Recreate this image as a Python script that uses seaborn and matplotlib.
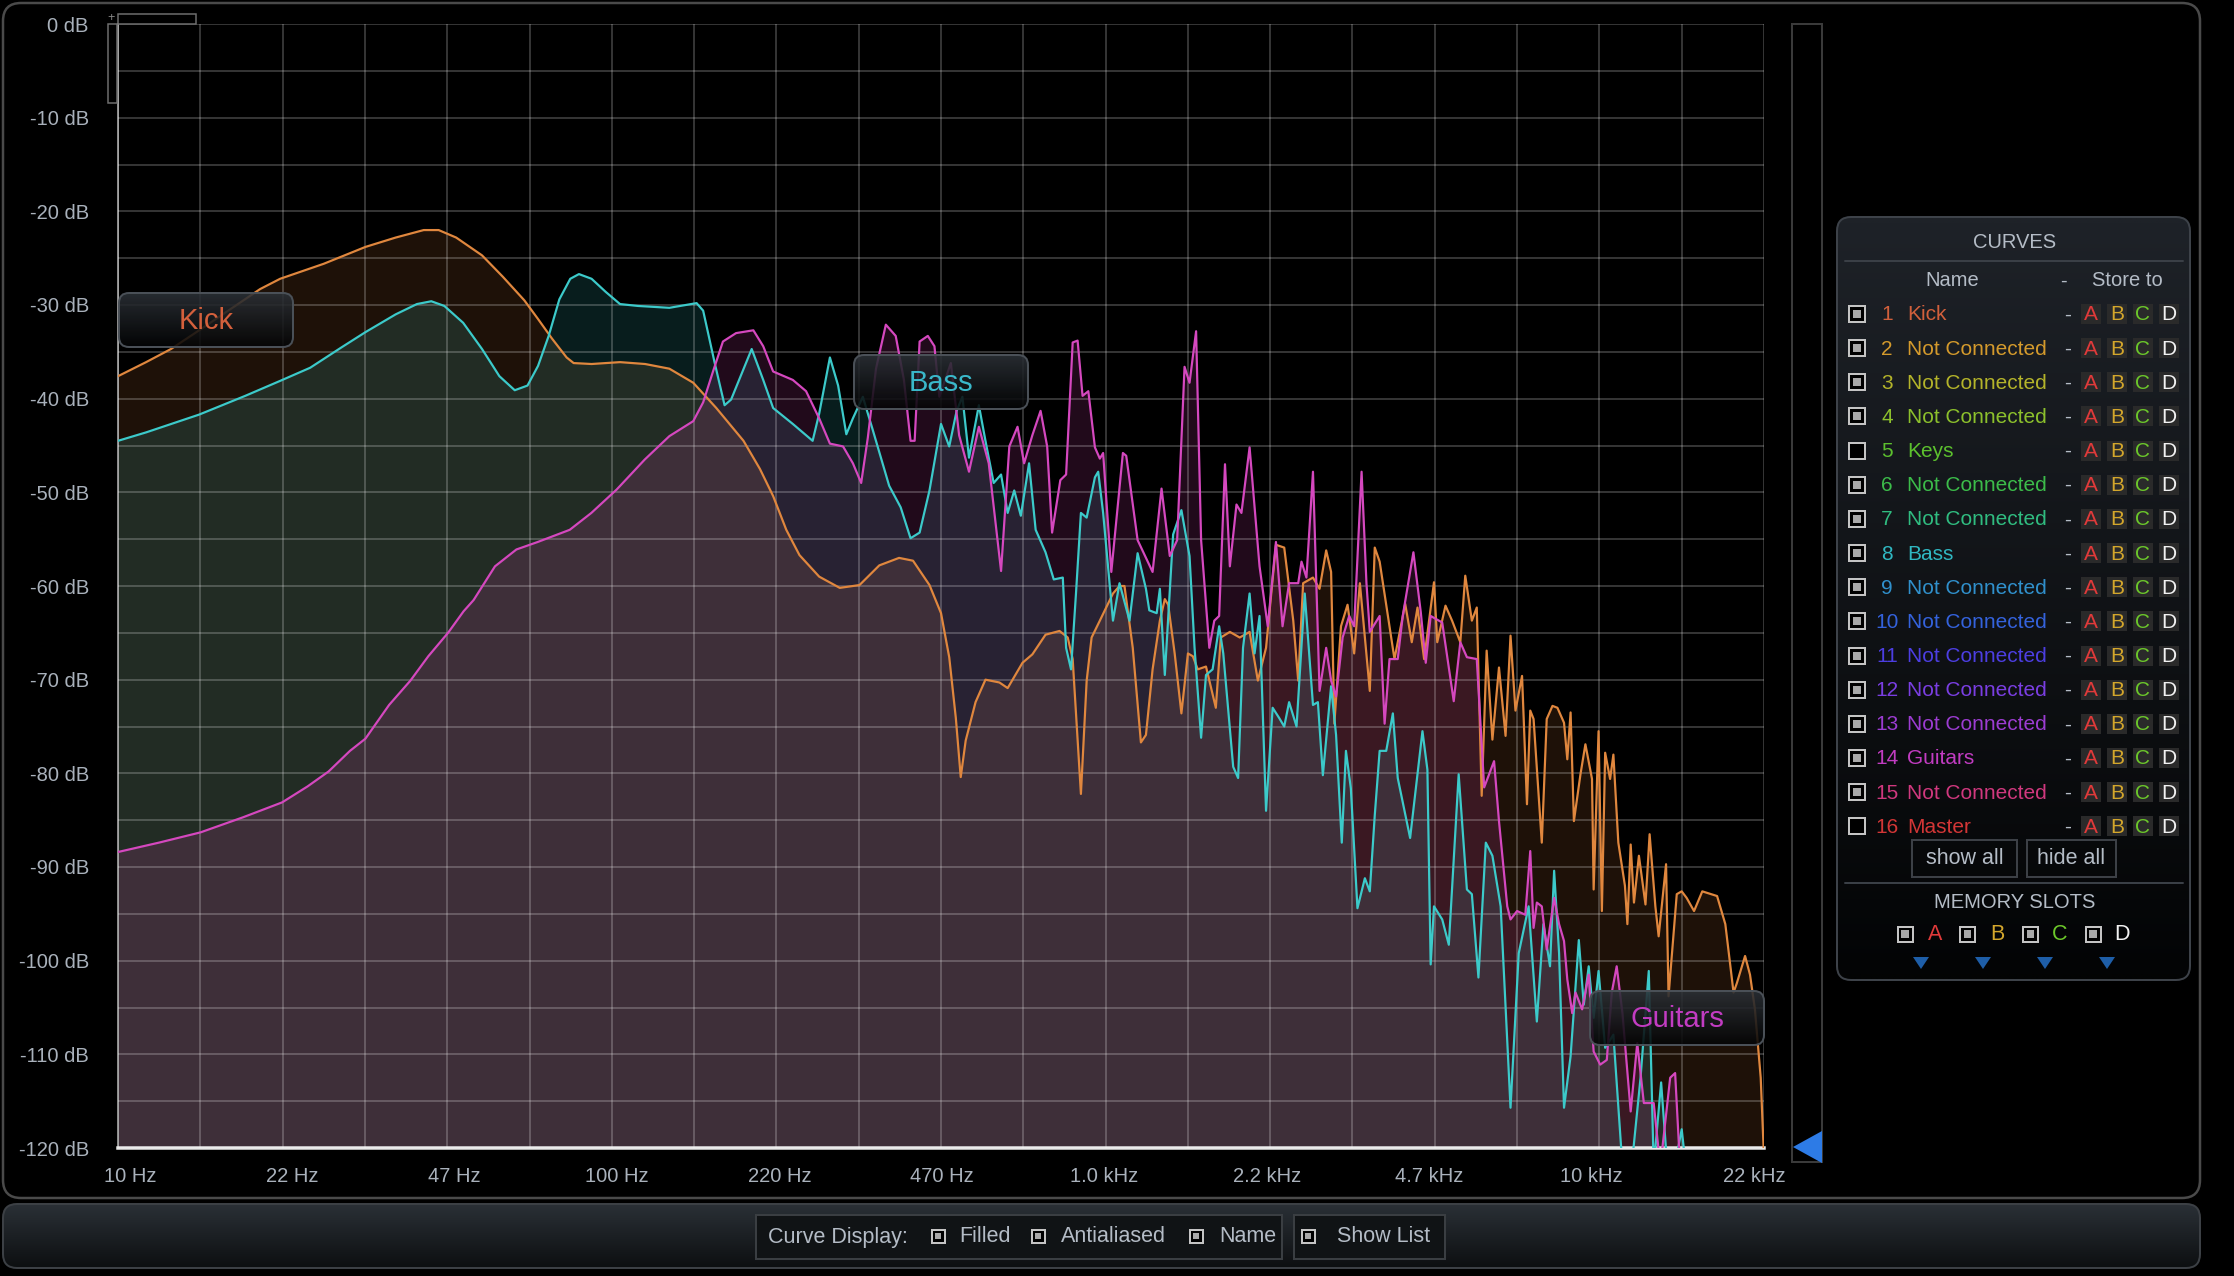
import numpy as np
import matplotlib

matplotlib.use("Agg")

import matplotlib.pyplot as plt
import matplotlib.colors as mcolors
from matplotlib.patches import FancyBboxPatch, Rectangle, Polygon
from matplotlib.ticker import NullLocator
from matplotlib.transforms import ScaledTranslation
import seaborn as sns

# spectrum curves (Hz, dB)
kick_freq = [
    10.0, 11.4, 12.8, 14.7, 19.4, 21.3, 26.1, 31.7, 36.5, 41.6, 44.6, 48.4, 54.6, 60.2, 66.5, 70.9, 75.7, 81.0, 83.7, 91.0,
    103.9, 116.8, 130.8, 146.2, 162.8, 184.8, 199.5, 212.2, 225.6, 239.9, 263.0, 289.5, 317.4, 348.1, 381.7, 407.4, 439.9,
    464.2, 482.3, 497.4, 508.9, 520.8, 545.3, 571.1, 609.5, 633.4, 678.7, 710.7, 755.7, 806.6, 838.2, 857.7, 891.3,
    915.5, 936.8, 973.5, 1035, 1067, 1092, 1135, 1179, 1207, 1245, 1288, 1318, 1339, 1380, 1424, 1468, 1502, 1537,
    1597, 1672, 1711, 1785, 1869, 1957, 2034, 2113, 2213, 2300, 2399, 2455, 2512, 2630, 2712, 2797, 2862, 2906,
    2997, 3090, 3187, 3273, 3428, 3508, 3589, 3701, 3846, 4043, 4169, 4282, 4416, 4624, 4695, 4879, 5031, 5228,
    5350, 5517, 5645, 5776, 5911, 6072, 6261, 6456, 6607, 6761, 6972, 7134, 7244, 7357, 7644, 7822, 8035, 8222,
    8479, 8610, 8743, 8879, 9155, 9368, 9661, 9735, 9961, 10116, 10272, 10512, 10674, 10923, 11264, 11394, 11570,
    11749, 12023, 12397, 12638, 12982, 13182, 13646, 13804, 14344, 14678, 15020, 15548, 16156, 17311, 17989,
    18692, 18982, 19724, 20184, 20653, 21216, 21544,
]
kick_db = [
    -37.6, -36.1, -34.7, -32.6, -28.3, -27.2, -25.6, -23.8, -22.8, -22.0, -22.0, -22.8, -24.7, -27.0, -29.5, -31.5, -33.6, -35.6, -36.2, -36.3,
    -36.1, -36.3, -36.8, -38.3, -41.0, -44.5, -47.5, -50.4, -54.0, -56.7, -59.0, -60.2, -59.9, -57.8, -57.0, -57.3, -59.9,
    -62.9, -67.6, -74.1, -80.4, -76.5, -72.4, -70.0, -70.3, -70.9, -68.2, -67.3, -65.2, -64.8, -65.5, -67.8, -82.2,
    -70.1, -65.5, -63.7, -60.8, -60.0, -60.0, -66.6, -76.7, -75.9, -68.9, -63.7, -61.4, -62.0, -67.2, -73.6, -67.2, -67.5, -68.9,
    -68.6, -73.0, -65.5, -64.9, -65.5, -64.9, -70.1, -66.6, -55.6, -55.9, -63.7, -70.1, -59.7, -59.1, -60.3, -56.2, -58.5, -74.7,
    -64.3, -62.0, -67.2, -59.7, -71.2, -55.9, -57.4, -62.0, -67.8, -61.9, -66.0, -62.3, -67.8, -59.6, -66.0, -62.1, -63.7, -66.0,
    -58.9, -63.7, -62.3, -82.4, -66.9, -76.4, -68.7, -76.0, -65.3, -73.3, -69.6, -83.3, -73.3, -74.2, -87.4, -74.2, -72.8, -73.0,
    -74.6, -78.5, -73.5, -85.1, -80.1, -76.9, -80.6, -92.4, -75.5, -94.7, -77.8, -80.6, -78.0, -87.4, -92.0, -96.1, -87.6,
    -93.8, -88.8, -94.0, -86.5, -94.2, -97.4, -89.7, -103.8, -92.9, -92.6, -93.3, -94.7, -92.6, -93.1, -96.1,
    -103.4, -102.4, -99.5, -101.5, -105.2, -112.5, -121.0,
]

bass_freq = [
    10.0, 11.4, 14.6, 18.1, 21.3, 24.5, 28.4, 31.7, 36.5, 40.3, 43.1, 45.8, 50.0, 54.6, 59.2, 63.6, 67.5, 70.9, 74.5, 78.3, 82.4, 85.8, 91.0, 97.2,
    103.9, 112.9, 130.8, 148.5, 153.1, 161.6, 169.2, 174.4, 192.0, 202.6, 212.2, 232.6, 255.1, 263.0, 276.5, 287.3, 298.5, 307.8,
    322.4, 337.5, 364.5, 384.6, 402.7, 420.1, 439.9, 464.2, 482.3, 499.3, 512.9, 528.9, 553.8, 571.1, 593.4, 614.2, 633.4, 653.1, 673.5,
    699.8, 721.7, 755.7, 785.3, 819.1, 831.8, 851.1, 871.0, 891.3, 915.5, 951.4, 966.1, 988.6,
    1035, 1067, 1118, 1161, 1207, 1226, 1269, 1288, 1318, 1370, 1424, 1479, 1514, 1561, 1597, 1647, 1698, 1731,
    1813, 1855, 1898, 1957, 2003, 2050, 2113, 2179, 2247, 2300, 2353, 2436, 2531, 2630, 2691, 2754, 2862, 2929,
    3008, 3067, 3138, 3236, 3350, 3428, 3508, 3589, 3701, 3817, 3905, 4137, 4382, 4484, 4553, 4624, 4805, 4955,
    5188, 5391, 5517, 5689, 5888, 6072, 6310, 6607, 6865, 7189, 7470, 7703, 7943, 8097, 8286, 8479, 8743, 9085,
    9297, 9514, 9735, 9961, 10272, 10674, 11135, 11570, 12115, 12589, 12882, 13335, 13857, 14678, 15252, 16469,
]
bass_db = [
    -44.5, -43.6, -41.7, -39.7, -38.1, -36.7, -34.5, -32.9, -31.0, -29.9, -29.6, -30.1, -31.9, -34.7, -37.6, -39.1, -38.6, -36.5, -33.3, -29.4, -27.2, -26.7, -27.2, -28.6,
    -29.9, -30.1, -30.3, -29.8, -30.6, -36.2, -40.7, -40.1, -34.7, -38.0, -41.0, -42.7, -44.5, -41.6, -35.6, -38.6, -43.8, -42.1,
    -39.8, -43.3, -49.3, -51.6, -54.9, -54.3, -49.8, -42.7, -45.1, -41.3, -39.8, -46.3, -40.7, -44.5, -49.0, -48.1, -52.2, -49.8, -52.5,
    -46.9, -54.0, -56.4, -59.3, -59.1, -66.6, -68.9, -60.8, -52.2, -52.7, -48.4, -47.8, -52.2,
    -63.7, -59.7, -63.7, -56.5, -60.3, -62.6, -62.9, -60.3, -69.5, -54.5, -51.9, -56.8, -66.6, -76.2, -69.5, -68.9, -64.3, -67.2,
    -79.3, -80.5, -66.6, -60.8, -67.2, -63.2, -84.0, -73.0, -74.1, -75.0, -72.4, -75.0, -60.8, -72.7, -72.4, -80.2, -70.7, -75.9,
    -87.4, -77.6, -81.6, -94.4, -91.2, -92.6, -84.5, -77.6, -77.6, -73.6, -80.5, -86.9, -75.5, -79.6, -100.4, -94.2, -95.6, -98.3,
    -80.1, -92.4, -92.9, -101.8, -87.4, -88.8, -94.2, -115.7, -99.2, -94.2, -106.5, -96.1, -100.6, -90.4, -99.2, -115.7, -110.2, -97.8,
    -104.7, -100.6, -106.1, -101.1, -109.3, -107.9, -122.0, -123.0, -112.5, -101.1, -122.0, -113.0, -125.0, -118.0, -126.0, -135.0,
]

guitars_freq = [
    10.0, 12.1, 14.7, 17.9, 21.5, 24.2, 26.7, 29.5, 31.7, 35.4, 39.1, 42.5, 46.6, 50.1, 52.5, 58.0, 64.1, 70.8, 82.2, 90.9,
    102.3, 116.6, 130.8, 146.2, 153.1, 160.3, 167.9,
    178.5, 193.5, 202.6, 212.2, 232.6, 247.4, 263.0, 276.5, 294.0, 307.8, 319.9, 329.9, 342.8, 358.9, 375.8, 390.5, 402.7, 410.5,
    420.1, 436.5, 450.2, 460.6, 486.0, 505.1, 528.9, 553.8, 579.9, 614.2, 638.3, 663.2, 683.9, 710.7, 738.5, 761.5, 779.2, 809.7,
    831.8, 857.7, 877.6, 898.1, 922.6, 951.4, 973.5, 988.6, 1027, 1084, 1101, 1161, 1245, 1298, 1349, 1396, 1445, 1479,
    1525, 1561, 1622, 1660, 1698, 1745, 1785, 1841, 1884, 1957, 2050, 2130, 2213, 2282, 2353, 2455, 2493, 2551,
    2630, 2712, 2797, 2862, 2929, 3020, 3114, 3187, 3299, 3375, 3428, 3589, 3673, 3758, 3905, 3997, 4201, 4348,
    4450, 4553, 4805, 5070, 5228, 5391, 5645, 5843, 6119, 6261, 6407, 6507, 6607, 6813, 7079, 7244, 7357, 7470,
    7644, 7822, 8097, 8286, 8479, 8610, 8810, 8947, 9226, 9514, 9735, 10038, 10351, 10593, 10840, 11135, 11570, 11931,
    12303, 12882, 13284, 13910, 14235, 14566, 15252,
]
guitars_db = [
    -88.4, -87.4, -86.3, -84.7, -83.1, -81.4, -79.8, -77.6, -76.3, -72.7, -70.1, -67.5, -65.0, -62.7, -61.5, -57.9, -56.1, -55.3, -54.0, -52.2,
    -49.7, -46.5, -44.0, -42.4, -40.4, -37.1, -33.9,
    -33.0, -32.7, -34.4, -37.1, -38.0, -39.2, -42.1, -44.8, -45.1, -46.9, -49.0, -44.2, -36.8, -32.1, -33.3, -38.0, -44.5, -44.5,
    -33.9, -33.3, -34.4, -39.8, -36.2, -43.9, -47.8, -43.0, -46.9, -58.4, -45.1, -43.0, -46.9, -43.9, -41.3, -45.1, -54.3, -48.7,
    -48.1, -34.0, -33.8, -39.7, -39.2, -45.2, -46.4, -45.8, -58.5, -45.8, -46.1, -55.1, -58.5, -49.6, -56.8, -55.1, -36.6, -38.3,
    -32.8, -55.1, -66.6, -63.7, -63.2, -47.0, -57.9, -51.3, -52.2, -45.2, -57.9, -64.3, -55.3, -64.3, -59.7, -59.7, -57.4, -59.1,
    -47.8, -71.2, -66.6, -70.1, -71.8, -65.5, -63.2, -64.3, -47.8, -59.7, -64.9, -63.2, -74.7, -67.8, -67.8, -63.2, -56.4, -62.8,
    -68.2, -63.2, -63.9, -72.3, -66.0, -67.6, -67.8, -81.5, -78.7, -85.1, -90.6, -94.2, -95.6, -94.7, -95.1, -88.3, -96.5, -93.8,
    -94.2, -98.8, -93.3, -96.1, -97.9, -102.0, -105.6, -103.4, -105.2, -101.5, -109.7, -111.1, -110.6, -103.4, -100.6, -105.6, -116.1, -108.8,
    -115.2, -115.2, -122.0, -112.5, -112.0, -122.0, -130.0,
]

x_tick_labels = ["10 Hz", "22 Hz", "47 Hz", "100 Hz", "220 Hz", "470 Hz",
                 "1.0 kHz", "2.2 kHz", "4.7 kHz", "10 kHz", "22 kHz"]
db_ticks = list(range(-120, 1, 5))

curve_names = ["Kick", "Not Connected", "Not Connected", "Not Connected", "Keys", "Not Connected",
               "Not Connected", "Bass", "Not Connected", "Not Connected", "Not Connected",
               "Not Connected", "Not Connected", "Guitars", "Not Connected", "Master"]
curve_shown = [True, True, True, True, False, True, True, True,
               True, True, True, True, True, True, True, False]
curve_colors = ["#d2603c", "#d49a2c", "#b4b42a", "#8cc02c", "#5cc02e", "#3cbc4a", "#30bc80", "#30b8c2",
                "#3090cc", "#3462dc", "#4c3ee2", "#7a3ee2", "#9c3cd2", "#c23cc2", "#d0387e", "#d23636"]
slot_letters = ["A", "B", "C", "D"]
slot_colors = ["#e03a3a", "#d4a72c", "#6cc82a", "#f2f2f2"]

W, H, DPI = 2234, 1276, 100
PX = 72 / DPI
TXT = "#b4bcc6"

sns.set_theme(style="dark", rc={"axes.facecolor": "none", "figure.facecolor": "black"})
plt.rcParams["font.family"] = ["Liberation Sans", "DejaVu Sans"]

fig = plt.figure(figsize=(W / DPI, H / DPI), dpi=DPI, facecolor="black")


def pixel_axes(z):
    a = fig.add_axes([0, 0, 1, 1], zorder=z)
    a.set_xlim(0, W)
    a.set_ylim(H, 0)
    a.set_autoscale_on(False)
    a.set_axis_off()
    return a


def gradient_box(a, x, y, w, h, top, bottom, edge, radius, lw=2, alpha=1.0, z=1):
    box = FancyBboxPatch((x, y), w, h, boxstyle=f"round,pad=0,rounding_size={radius}",
                         facecolor="none", edgecolor=edge, linewidth=lw * PX, zorder=z + 0.5)
    a.add_patch(box)
    c0 = np.array(mcolors.to_rgb(top))
    c1 = np.array(mcolors.to_rgb(bottom))
    t = np.linspace(0, 1, 64)[:, None, None]
    im = a.imshow(c0 + (c1 - c0) * t, extent=(x, x + w, y + h, y), aspect="auto",
                  zorder=z, alpha=alpha, interpolation="bilinear")
    im.set_clip_path(box)


def checkbox(a, cx, cy, checked, size=15):
    a.add_patch(Rectangle((cx - size / 2, cy - size / 2), size, size, facecolor="black",
                          edgecolor="#c4c4c4", linewidth=2 * PX, zorder=4))
    if checked:
        s = size * 0.5
        a.add_patch(Rectangle((cx - s / 2, cy - s / 2), s, s, facecolor="#a8a8a8",
                              edgecolor="none", zorder=5))


bg = pixel_axes(0)
ui = pixel_axes(2)

# outer frame and bottom bar
bg.add_patch(FancyBboxPatch((3, 3), 2197, 1195, boxstyle="round,pad=0,rounding_size=18",
                            facecolor="black", edgecolor="#4a4a4a", linewidth=2.5 * PX))
gradient_box(bg, 3, 1204, 2197, 64, "#2a3036", "#0d0f11", "#3c4045", 14)
bg.add_patch(Rectangle((756, 1215), 526, 44, facecolor="#101315", edgecolor="#3a3e42", linewidth=2 * PX, zorder=3))
bg.add_patch(Rectangle((1294, 1215), 151, 44, facecolor="#101315", edgecolor="#3a3e42", linewidth=2 * PX, zorder=3))
bg.text(768, 1237, "Curve Display:", color=TXT, fontsize=15.5, ha="left", va="center", zorder=5)
for cx, label, lx in [(938, "Filled", 959), (1038, "Antialiased", 1061), (1196, "Name", 1219), (1308, "Show List", 1337)]:
    checkbox(bg, cx, 1236, True, size=13)
    bg.text(lx, 1237, label, color=TXT, fontsize=15.5, ha="left", va="center", zorder=5)

# level meter strip
bg.add_patch(Rectangle((1792, 24), 30, 1138, facecolor="black", edgecolor="#3a3a3a", linewidth=2 * PX))
bg.add_patch(Polygon([(1793, 1147), (1822, 1131), (1822, 1163)], closed=True,
                     facecolor="#2d7be6", edgecolor="none", zorder=3))

# curves panel
gradient_box(bg, 1837, 217, 353, 763, "#1e2228", "#030405", "#3d4249", 14)
bg.text(2015, 243, "CURVES", color=TXT, fontsize=14.5, ha="center", va="center", zorder=5)
bg.plot([1845, 2183], [261, 261], color="#3a3f46", linewidth=2 * PX, zorder=3)
bg.text(1952, 281, "Name", color=TXT, fontsize=14.5, ha="center", va="center", zorder=5)
bg.text(2063, 281, "-", color=TXT, fontsize=14.5, ha="center", va="center", zorder=5)
bg.text(2127, 281, "Store to", color=TXT, fontsize=14.5, ha="center", va="center", zorder=5)
for i, (name, shown, color) in enumerate(zip(curve_names, curve_shown, curve_colors)):
    ry = 314 + i * 34.15
    checkbox(bg, 1857, ry, shown, size=16)
    bg.text(1887, ry + 1, str(i + 1), color=color, fontsize=15, ha="center", va="center", zorder=5)
    bg.text(1907, ry + 1, name, color=color, fontsize=15, ha="left", va="center", zorder=5)
    bg.text(2068, ry + 1, "-", color=TXT, fontsize=15, ha="center", va="center", zorder=5)
    for j, (letter, lc) in enumerate(zip(slot_letters, slot_colors)):
        cx = 2091 + j * 26
        bg.add_patch(Rectangle((cx - 10, ry - 10), 20, 20, facecolor="#2a2a2a", edgecolor="none", zorder=4))
        bg.text(cx, ry + 1, letter, color=lc, fontsize=15, ha="center", va="center", zorder=5)
bg.add_patch(Rectangle((1912, 840), 105, 37, facecolor="none", edgecolor="#3c4046", linewidth=2 * PX, zorder=3))
bg.add_patch(Rectangle((2027, 840), 89, 37, facecolor="none", edgecolor="#3c4046", linewidth=2 * PX, zorder=3))
bg.text(1965, 859, "show all", color=TXT, fontsize=15.5, ha="center", va="center", zorder=5)
bg.text(2071, 859, "hide all", color=TXT, fontsize=15.5, ha="center", va="center", zorder=5)
bg.plot([1845, 2183], [883, 883], color="#3a3f46", linewidth=2 * PX, zorder=3)
bg.text(2015, 903, "MEMORY SLOTS", color=TXT, fontsize=14.5, ha="center", va="center", zorder=5)
for j, (letter, lc) in enumerate(zip(slot_letters, slot_colors)):
    checkbox(bg, 1905 + j * 62.7, 934, True, size=15)
    bg.text(1935 + j * 62.3, 935, letter, color=lc, fontsize=15.5, ha="center", va="center", zorder=5)
    tx = 1921 + j * 62
    bg.add_patch(Polygon([(tx - 8, 957), (tx + 8, 957), (tx, 969)], closed=True,
                         facecolor="#1e5ea8", edgecolor="none", zorder=4))

# spectrum axes
ax = fig.add_axes([118 / W, 1 - 1148 / H, 1646 / W, 1124 / H], zorder=1)
ax.set_facecolor("none")
ax.set_xscale("log")

fills = [(kick_freq, kick_db, "#d97a3c", 0.14), (bass_freq, bass_db, "#3cc8c8", 0.15),
         (guitars_freq, guitars_db, "#d240aa", 0.16)]
for k, (fq, db, fc, al) in enumerate(fills):
    ax.fill_between(fq, db, -140, color=fc, alpha=al, linewidth=0, zorder=1 + 0.1 * k)

lines = [(kick_freq, kick_db, "#e0873e"), (bass_freq, bass_db, "#3ccaca"), (guitars_freq, guitars_db, "#d548bf")]
for fq, db, lc in lines:
    sns.lineplot(x=fq, y=db, color=lc, linewidth=2.2 * PX, ax=ax, zorder=3, legend=False)

grid_freqs = 10 * 10 ** (np.arange(21) / 6)
ax.set_xlim(grid_freqs[0], grid_freqs[-1])
ax.set_ylim(-120, 0)
ax.set_xticks(grid_freqs)
ax.set_xticklabels([x_tick_labels[i // 2] if i % 2 == 0 else "" for i in range(21)])
ax.xaxis.set_minor_locator(NullLocator())
ax.set_yticks(db_ticks)
ax.set_yticklabels([f"{v} dB" if v % 10 == 0 else "" for v in db_ticks])
ax.set_xlabel("")
ax.set_ylabel("")
ax.tick_params(axis="both", length=0, colors="#a9b1bb", labelsize=14.5)
ax.tick_params(axis="y", pad=21)
ax.tick_params(axis="x", pad=14)
ax.grid(True, which="major", color="white", alpha=0.28, linewidth=1.5 * PX)
ax.set_axisbelow(False)
for side in ["top", "right"]:
    ax.spines[side].set_visible(False)
ax.spines["left"].set_color("#8c8c8c")
ax.spines["left"].set_linewidth(2 * PX)
ax.spines["bottom"].set_color("#e8e8e8")
ax.spines["bottom"].set_linewidth(3.5 * PX)

offsets = np.linspace(12, -10, 11)
for lbl, dx in zip(ax.get_xticklabels()[::2], offsets):
    lbl.set_transform(lbl.get_transform() + ScaledTranslation(dx / DPI, 0, fig.dpi_scale_trans))

# curve name tags and zoom widget
for (x, y, name, color) in [(119, 293, "Kick", "#d4603c"), (854, 355, "Bass", "#3ab8ca"),
                            (1590, 991, "Guitars", "#c23cc2")]:
    gradient_box(ui, x, y, 174, 54, "#2c3137", "#040506", "#4a5057", 10, alpha=0.88, z=3)
    ui.text(x + 87, y + 28, name, color=color, fontsize=21, ha="center", va="center", zorder=5)
ui.add_patch(Rectangle((118, 14), 78, 10, facecolor="none", edgecolor="#6f6f6f", linewidth=1.5 * PX))
ui.add_patch(Rectangle((108, 24), 9, 79, facecolor="none", edgecolor="#6f6f6f", linewidth=1.5 * PX))
ui.text(111, 18, "+", color="#8a8a8a", fontsize=9, ha="center", va="center")

fig.savefig("out.png", dpi=DPI, facecolor="black")
plt.close(fig)
